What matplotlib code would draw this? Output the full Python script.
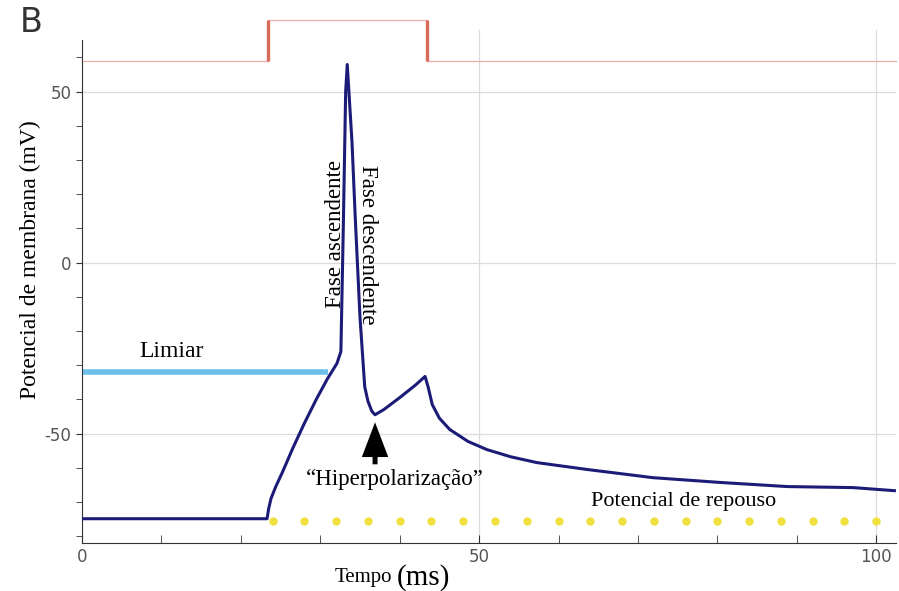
import numpy as np
import matplotlib.pyplot as plt

# membrane potential trace (ms, mV)
t_trace = [0, 23.3, 23.5, 23.8, 24.4, 25.2, 26.6, 28.0, 29.5, 30.9, 32.1, 32.6, 32.9, 33.2, 33.4,
           34.0, 34.4, 35.0, 35.6, 36.0, 36.5, 36.9, 38.0, 40.0, 42.0, 43.2, 43.6, 44.1, 45.0,
           46.3, 48.6, 51.0, 54.0, 57.3, 63.6, 71.9, 80.4, 88.8, 97.1, 102.3]
v_trace = [-74.9, -74.9, -72.0, -69.0, -65.5, -61.5, -54.0, -47.0, -40.0, -34.0, -29.5, -26.0, 10.0, 50.0, 57.9,
           35.1, 13.5, -15.8, -36.3, -40.5, -43.5, -44.5, -43.0, -39.5, -35.8, -33.3, -36.5, -41.5, -45.5,
           -48.8, -52.3, -54.7, -56.8, -58.5, -60.5, -62.9, -64.3, -65.5, -65.8, -66.7]

# stimulus (drawn above the plot)
stim_on, stim_off = 23.4, 43.5
stim_base, stim_top = 59, 71

# threshold and resting potential
limiar_t = [0, 31]
limiar_v = [-32, -32]
repouso_t = np.arange(24, 101, 4)
repouso_v = -75.5

fig = plt.figure(figsize=(8.99, 5.91), dpi=100)
ax = fig.add_axes([0.0912, 0.0812, 0.9055, 0.8681])

ax.set_xlim(0, 102.5)
ax.set_ylim(-82, 68)

for y in [50, 0, -50]:
    ax.axhline(y, color='#dcdcdc', lw=0.9, zorder=0)
for x in [50, 100]:
    ax.axvline(x, color='#dcdcdc', lw=0.9, zorder=0)

# stimulus trace
ax.plot([0, stim_on, stim_on, stim_off, stim_off, 102.5],
        [stim_base, stim_base, stim_top, stim_top, stim_base, stim_base],
        color='#e8b0a4', lw=0.9, clip_on=False, zorder=2)
ax.plot([stim_on, stim_on], [stim_base, stim_top], color='#d86a58', lw=2.4,
        clip_on=False, solid_capstyle='butt', zorder=3)
ax.plot([stim_off, stim_off], [stim_base, stim_top], color='#d86a58', lw=2.4,
        clip_on=False, solid_capstyle='butt', zorder=3)

ax.plot(limiar_t, limiar_v, color='#6cc0ea', lw=4, solid_capstyle='butt', zorder=2)
ax.plot(repouso_t, np.full(len(repouso_t), repouso_v), 'o', color='#f0e040',
        ms=6, mec='none', zorder=2)
ax.plot(t_trace, v_trace, color='#1c1c78', lw=2.2, zorder=4)

ax.spines['top'].set_visible(False)
ax.spines['right'].set_visible(False)
ax.spines['left'].set_bounds(-82, 65)
ax.spines['left'].set_color('#333333')
ax.spines['bottom'].set_color('#333333')

ax.set_xticks([0, 50, 100])
ax.set_xticks(np.arange(0, 101, 10), minor=True)
ax.set_yticks([-50, 0, 50])
ax.set_yticks(np.arange(-80, 61, 10), minor=True)
ax.tick_params(axis='x', which='both', direction='in', length=6, color='#333333',
               labelsize=12, labelcolor='#555555')
ax.tick_params(axis='y', which='both', direction='out', length=4, color='#333333',
               labelsize=12, labelcolor='#555555')
ax.set_yticklabels(['-50', '0', '50'])

serif = 'Liberation Serif'
ax.text(11.3, -26, 'Limiar', family=serif, fontsize=17, ha='center', va='center')
ax.text(31.9, 8.2, 'Fase ascendente', family=serif, fontsize=16.5, rotation=90,
        ha='center', va='center')
ax.text(36.0, 5.3, 'Fase descendente', family=serif, fontsize=16.5, rotation=270,
        ha='center', va='center')
ax.text(39.4, -63.5, '\u201cHiperpolariza\u00e7\u00e3o\u201d', family=serif, fontsize=16.5,
        ha='center', va='center')
ax.text(75.7, -69.9, 'Potencial de repouso', family=serif, fontsize=16,
        ha='center', va='center')
ax.annotate('', xy=(36.9, -45.9), xytext=(36.9, -59.8),
            arrowprops=dict(arrowstyle='simple,head_width=1.9,head_length=2.5,tail_width=0.36',
                            color='black', lw=0))

fig.text(0.022, 0.962, 'B', fontsize=24, ha='left', va='center', color='#333333')
fig.text(0.034, 0.56, 'Potencial de membrana (mV)', family=serif, fontsize=17,
         rotation=90, ha='center', va='center')
fig.text(0.436, 0.022, 'Tempo', family=serif, fontsize=15, ha='right', va='center')
fig.text(0.441, 0.022, '(ms)', family=serif, fontsize=21, ha='left', va='center')

fig.savefig('out.png', dpi=100)
